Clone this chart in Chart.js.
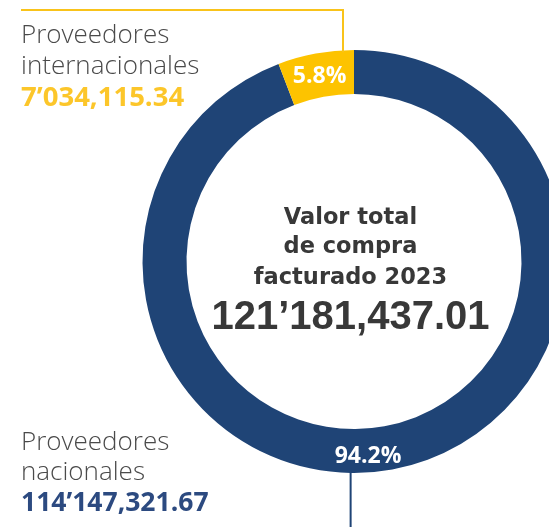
<!DOCTYPE html>
<html>
<head>
<meta charset="utf-8">
<script src="https://cdn.jsdelivr.net/npm/chart.js@4/dist/chart.umd.min.js"></script>
<style>
  html, body { margin:0; padding:0; width:549px; height:527px; overflow:hidden; background:#fff; }
  #wrap { position:absolute; left:0; top:0; width:580px; height:527px; }
  .lbl { position:absolute; white-space:nowrap; line-height:1; }
  .name { font-family:'Open Sans', sans-serif; font-weight:300; font-size:26px; color:#4a4a4a; left:21px; }
  .num { font-family:'Open Sans', sans-serif; font-weight:700; left:21px; }
  .ctr { position:absolute; left:200px; width:301px; text-align:center; line-height:1; color:#383838; white-space:nowrap; }
</style>
</head>
<body>
<div id="wrap"><canvas id="c"></canvas></div>

<div class="lbl name" style="top:20px">Proveedores</div>
<div class="lbl name" style="top:51px">internacionales</div>
<div class="lbl num" style="top:82px;font-size:27.5px;color:#fcc62a">7’034,115.34</div>

<div class="lbl name" style="top:427px">Proveedores</div>
<div class="lbl name" style="top:457px">nacionales</div>
<div class="lbl num" style="top:488px;font-size:26.5px;color:#2c4a80">114’147,321.67</div>

<div class="ctr" style="top:203px;font:bold 22.5px 'DejaVu Sans'">Valor total</div>
<div class="ctr" style="top:232px;font:bold 22.5px 'DejaVu Sans'">de compra</div>
<div class="ctr" style="top:263px;font:bold 22.5px 'DejaVu Sans'">facturado 2023</div>
<div class="ctr" style="top:293px;font:bold 40px 'Liberation Sans'">121’181,437.01</div>

<script>
// Valor total de compra facturado 2023, por tipo de proveedor
const categories = ['Proveedores nacionales', 'Proveedores internacionales'];
const amounts    = [114147321.67, 7034115.34];
const pctLabels  = ['94.2%', '5.8%'];
const colors     = ['#1f4476', '#fdc300'];

// percentage labels + leader lines, anchored on the arcs
const ringLabels = {
  id: 'ringLabels',
  afterDatasetsDraw(chart){
    const ctx = chart.ctx;
    const arcs = chart.getDatasetMeta(0).data;
    ctx.save();
    ctx.fillStyle = '#fff';
    ctx.font = 'bold 23px "Open Sans", sans-serif';
    ctx.textAlign = 'center';
    ctx.textBaseline = 'middle';
    arcs.forEach((arc, i) => {
      const p = arc.getProps(['x','y','startAngle','endAngle','innerRadius','outerRadius']);
      let a = (p.startAngle + p.endAngle) / 2;
      let r = (p.innerRadius + p.outerRadius) / 2;
      if(i === 0){ a = Math.PI/2 - 0.072; r += 5; } // big slice: label near the bottom
      ctx.fillText(pctLabels[i], p.x + r*Math.cos(a), p.y + r*Math.sin(a) + 1);
    });

    // leader lines
    const big = arcs[0].getProps(['x','y','outerRadius']);
    ctx.lineWidth = 2;
    // yellow: from top of ring up and to the left
    let a = -Math.PI/2 - 0.052;
    let x0 = big.x + big.outerRadius*Math.cos(a), y0 = big.y + big.outerRadius*Math.sin(a);
    ctx.strokeStyle = '#f9c31a';
    ctx.beginPath(); ctx.moveTo(x0, y0 + 2); ctx.lineTo(x0, 10); ctx.lineTo(21, 10); ctx.stroke();
    // blue: from bottom of ring down
    a = Math.PI/2 + 0.016;
    x0 = big.x + big.outerRadius*Math.cos(a); y0 = big.y + big.outerRadius*Math.sin(a);
    ctx.strokeStyle = colors[0];
    ctx.beginPath(); ctx.moveTo(x0, y0 - 2); ctx.lineTo(x0, chart.height); ctx.stroke();
    ctx.restore();
  }
};

new Chart(document.getElementById('c'), {
  type: 'doughnut',
  data: {
    labels: categories,
    datasets: [{
      data: amounts,
      backgroundColor: colors,
      borderWidth: 0,
      hoverOffset: 0,
      offset: 0
    }]
  },
  options: {
    responsive: true, maintainAspectRatio: false,
    animation: false,
    cutout: '79.2%',
    layout: { padding: { left: 142.5, right: 14.5, top: 50, bottom: 54 } },
    plugins: { legend: { display: false }, tooltip: { enabled: false } }
  },
  plugins: [ringLabels]
});
</script>
</body>
</html>
